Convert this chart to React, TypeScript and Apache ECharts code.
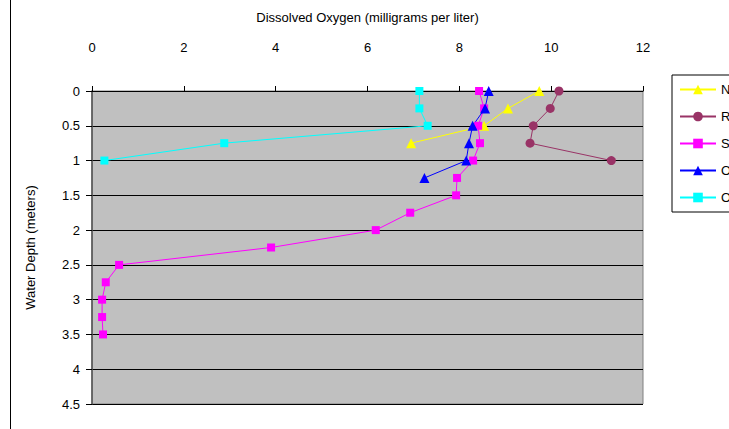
import React, { useEffect, useRef } from "react";
import * as echarts from "echarts";

const xTicks = [0, 2, 4, 6, 8, 10, 12];
const yTicks = [0, 0.5, 1, 1.5, 2, 2.5, 3, 3.5, 4, 4.5];

const nDepth = [0, 0.25, 0.5, 0.75];
const nDO = [9.74, 9.06, 8.54, 6.95];

const rDepth = [0, 0.25, 0.5, 0.75, 1];
const rDO = [10.17, 9.98, 9.61, 9.54, 11.31];

const sDepth = [0, 0.25, 0.5, 0.75, 1, 1.25, 1.5, 1.75, 2, 2.25, 2.5, 2.75, 3, 3.25, 3.5];
const sDO = [8.43, 8.54, 8.41, 8.45, 8.3, 7.95, 7.93, 6.93, 6.18, 3.9, 0.59, 0.3, 0.22, 0.22, 0.24];

const o1Depth = [0, 0.25, 0.5, 0.75, 1, 1.25];
const o1DO = [8.64, 8.56, 8.29, 8.21, 8.15, 7.24];

const o2Depth = [0, 0.25, 0.5, 0.75, 1];
const o2DO = [7.13, 7.13, 7.31, 2.88, 0.27];

const seriesNames = ["N", "R", "S", "O1", "O2"];
const legendLabels = ["N", "R", "S", "O", "O"];

const FONT = "Liberation Sans, Arial, sans-serif";

function pairs(xs: number[], ys: number[]) {
  return xs.map((x, i) => [x, ys[i]]);
}

export default function App() {
  const ref = useRef<HTMLDivElement>(null);
  useEffect(() => {
    if (!ref.current) return;
    const chart = echarts.init(ref.current, null, { renderer: "svg" });
    const mk = (name: string, xs: number[], ys: number[], color: string, symbol: string, size: number) => ({
      name,
      type: "line",
      data: pairs(xs, ys),
      symbol,
      symbolSize: size,
      showSymbol: true,
      lineStyle: { color, width: 1 },
      itemStyle: { color },
      emphasis: { disabled: true },
    });
    chart.setOption({
      animation: false,
      backgroundColor: "#ffffff",
      title: {
        text: "Dissolved Oxygen (milligrams per liter)",
        left: 367.5,
        top: 11,
        padding: 0,
        textAlign: "center",
        textStyle: { fontSize: 13, fontWeight: "normal", color: "#000", fontFamily: FONT },
      },
      legend: {
        orient: "vertical",
        left: 672,
        top: 75,
        padding: [8, 7, 8, 7],
        itemWidth: 36,
        itemHeight: 12,
        itemGap: 14,
        borderColor: "#000",
        borderWidth: 1,
        backgroundColor: "#fff",
        data: seriesNames,
        formatter: (name: string) => legendLabels[seriesNames.indexOf(name)],
        textStyle: { fontSize: 13, color: "#000", fontFamily: FONT },
      },
      grid: {
        left: 92,
        right: 86,
        top: 91,
        bottom: 25,
        show: true,
        backgroundColor: "#C0C0C0",
        borderColor: "#808080",
        borderWidth: 1,
      },
      xAxis: {
        type: "value",
        position: "top",
        min: xTicks[0],
        max: xTicks[xTicks.length - 1],
        interval: 2,
        axisLine: { show: true, lineStyle: { color: "#000", width: 1 } },
        axisTick: { show: true, inside: false, length: 5, lineStyle: { color: "#000" } },
        axisLabel: { fontSize: 13, color: "#000", fontFamily: FONT, margin: 37 },
        splitLine: { show: false },
      },
      yAxis: {
        type: "value",
        inverse: true,
        min: yTicks[0],
        max: yTicks[yTicks.length - 1],
        interval: 0.5,
        name: "Water Depth (meters)",
        nameLocation: "middle",
        nameGap: 55,
        nameTextStyle: { fontSize: 13, color: "#000", fontFamily: FONT },
        axisLine: { show: true, lineStyle: { color: "#505050", width: 1.5 } },
        axisTick: { show: true, inside: false, length: 6, lineStyle: { color: "#000" } },
        axisLabel: { fontSize: 13, color: "#000", fontFamily: FONT, margin: 12 },
        splitLine: { show: true, lineStyle: { color: "#000", width: 1 } },
      },
      graphic: [
        { type: "line", shape: { x1: 10.5, y1: 0, x2: 10.5, y2: 429 }, style: { stroke: "#000", lineWidth: 1 } },
      ],
      series: [
        mk(seriesNames[0], nDO, nDepth, "#FFFF00", "triangle", 10),
        mk(seriesNames[1], rDO, rDepth, "#993366", "circle", 9),
        mk(seriesNames[2], sDO, sDepth, "#FF00FF", "rect", 8),
        mk(seriesNames[3], o1DO, o1Depth, "#0000FF", "triangle", 10),
        mk(seriesNames[4], o2DO, o2Depth, "#00FFFF", "rect", 8),
      ],
    });
    return () => chart.dispose();
  }, []);
  return (
    <div
      ref={ref}
      style={{ position: "fixed", left: 0, top: 0, width: 729, height: 429, overflow: "hidden" }}
    />
  );
}
